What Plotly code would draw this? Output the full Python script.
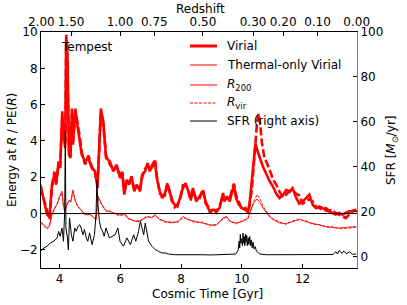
import plotly.graph_objects as go

# ---------------- data ----------------
# Thick "Virial" energy at R200 (solid)
vir_r200_t = [3.37,3.48,3.59,3.67,3.75,3.83,3.89,3.97,4.02,4.09,
              4.13,4.19,4.22,4.26,4.31,4.36,4.41,4.44,4.52,4.57,
              4.66,4.73,4.84,4.95,5.06,5.17,5.25,5.29,5.36,5.44,
              5.53,5.66,5.77,5.88,5.99,
              6.07,6.13,6.21,6.29,6.37,6.46,6.54,6.65,6.72,6.81,
              6.90,6.97,7.05,7.14,7.20,7.30,7.38,7.47,7.55,7.63,
              7.70,7.79,7.88,7.97,8.06,8.15,8.23,8.31,
              8.39,8.50,8.61,8.72,8.81,8.89,8.96,9.05,9.16,9.27,
              9.38,9.43,9.51,9.60,9.68,9.74,9.81,9.90,10.01,10.12,
              10.20,10.25,10.32,10.38,10.45,10.52,10.60,10.69,10.77,10.85,
              10.91,11.02,11.13,11.24,11.35,11.46,11.57,11.67,11.78,11.89,
              12.00,12.11,12.22,12.33,12.44,12.55,12.66,12.77,12.87,12.98,
              13.09,13.20,13.31,13.42,13.53,13.64,13.77]
vir_r200 = [1.59,0.67,-0.06,-0.16,1.59,2.14,1.59,2.87,2.51,5.63,
            4.16,3.79,9.85,8.75,3.24,3.06,5.78,3.79,5.78,5.08,
            4.16,3.24,2.87,3.06,2.51,2.32,1.40,3.24,5.78,5.08,
            3.06,2.87,2.32,2.69,1.96,
            2.14,1.04,1.86,1.59,2.05,1.22,1.59,1.22,2.14,2.32,
            2.78,2.32,2.69,2.87,1.96,1.22,0.85,1.13,1.59,1.22,
            0.67,0.49,0.39,0.95,1.40,1.68,1.22,0.85,
            1.40,0.67,0.95,1.22,0.67,0.30,0.12,0.21,0.16,0.30,
            1.13,0.67,0.95,0.67,1.22,1.50,0.85,0.49,0.30,0.21,
            0.12,0.49,1.59,2.51,3.85,3.43,3.00,2.60,2.30,2.00,
            1.80,1.50,1.10,0.85,1.00,1.30,1.20,1.40,0.90,0.55,
            0.67,0.85,1.04,0.49,0.30,0.39,0.30,0.16,0.12,0.03,
            -0.06,0.03,-0.06,0.03,0.12,0.12,0.21]

# Thick "Virial" energy at Rvir (dashed)
vir_rvir_t = [3.37,3.48,3.59,3.67,3.75,3.83,3.89,3.97,4.02,4.09,
              4.13,4.19,4.22,4.26,4.31,4.36,4.41,4.44,4.52,4.57,
              4.66,4.73,4.84,4.95,5.06,5.17,5.25,5.29,5.36,5.44,
              5.53,5.66,5.77,5.88,5.99,
              6.07,6.13,6.21,6.29,6.37,6.46,6.54,6.65,6.72,6.81,
              6.90,6.97,7.05,7.14,7.20,7.30,7.38,7.47,7.55,7.63,
              7.70,7.79,7.88,7.97,8.06,8.15,8.23,8.31,
              8.39,8.50,8.61,8.72,8.81,8.89,8.96,9.05,9.16,9.27,
              9.38,9.43,9.51,9.60,9.68,9.74,9.81,9.90,10.01,10.12,
              10.20,10.25,10.32,10.38,10.44,10.50,10.55,10.60,10.66,10.74,
              10.82,10.90,10.96,11.02,11.13,11.24,11.35,11.46,11.57,11.67,
              11.78,11.89,12.00,12.11,12.22,12.33,12.44,12.55,12.66,12.77,
              12.87,12.98,13.09,13.20,13.31,13.42,13.53,13.64,13.77]
vir_rvir = [1.45,0.80,0.10,-0.30,1.40,2.30,1.70,2.70,2.60,5.30,
            4.30,3.60,9.50,8.30,3.40,3.20,5.50,3.90,5.50,5.20,
            4.30,3.40,2.70,3.20,2.60,2.20,1.60,3.00,5.50,4.90,
            3.20,2.70,2.45,2.55,2.10,
            2.30,1.20,1.70,1.75,1.90,1.35,1.45,1.35,2.00,2.45,
            2.65,2.45,2.55,3.00,2.10,1.10,1.00,1.00,1.70,1.10,
            0.80,0.35,0.50,0.80,1.55,1.55,1.35,0.70,
            1.25,0.80,0.85,1.35,0.55,0.40,0.00,0.30,0.05,0.40,
            1.00,0.80,0.85,0.80,1.35,1.65,1.00,0.60,0.20,0.30,
            0.05,0.40,1.20,2.40,3.80,5.00,5.50,5.00,3.90,3.10,
            2.80,2.50,2.20,1.90,1.60,1.20,0.90,1.05,1.25,1.30,
            1.10,1.00,0.55,0.67,0.80,0.67,0.39,0.30,0.21,0.30,
            0.16,0.21,0.03,-0.06,-0.16,-0.25,-0.06,0.16,0.21]

# Thin "Thermal-only Virial" energy (solid = R200, dashed = Rvir)
therm_t = [3.37,3.48,3.60,3.67,3.75,3.83,3.92,4.00,4.08,4.12,
           4.17,4.22,4.30,4.37,4.44,4.52,4.60,4.70,4.80,4.90,
           5.00,5.10,5.20,5.27,5.34,5.45,5.55,5.66,5.80,5.95,
           6.05,6.15,6.26,6.48,6.65,6.81,6.92,7.03,7.14,7.30,
           7.47,7.68,7.90,8.06,8.23,8.44,8.72,8.94,9.16,9.38,
           9.50,9.60,9.81,10.03,10.20,10.30,10.40,10.50,10.60,10.70,
           10.85,11.00,11.24,11.46,11.67,11.89,12.11,12.33,12.55,12.77,
           12.98,13.20,13.42,13.77]
therm_r200 = [-0.43,-0.60,-0.80,-0.70,-0.06,0.30,0.49,0.95,1.23,0.50,
              0.10,0.40,0.67,0.67,1.30,0.67,0.40,0.21,0.03,-0.06,
              -0.06,-0.16,-0.35,0.95,0.67,0.30,0.16,0.12,0.03,-0.06,
              -0.10,0.00,-0.25,-0.43,-0.39,-0.25,-0.16,-0.25,-0.06,-0.34,
              -0.43,-0.52,-0.43,-0.16,-0.34,-0.43,-0.52,-0.62,-0.65,-0.25,
              -0.16,-0.43,-0.52,-0.43,-0.25,0.25,0.60,0.80,0.60,0.30,
              -0.06,-0.30,-0.52,-0.55,-0.45,-0.30,-0.45,-0.55,-0.65,-0.72,
              -0.77,-0.80,-0.76,-0.72]
therm_rvir = [-0.50,-0.70,-0.85,-0.60,0.00,0.20,0.55,0.85,1.15,0.60,
              0.20,0.35,0.75,0.60,1.20,0.75,0.35,0.25,-0.03,-0.10,
              -0.02,-0.20,-0.30,0.85,0.60,0.35,0.10,0.15,-0.02,-0.12,
              -0.05,-0.08,-0.30,-0.40,-0.45,-0.20,-0.22,-0.20,-0.12,-0.30,
              -0.48,-0.47,-0.50,-0.22,-0.30,-0.50,-0.47,-0.68,-0.60,-0.30,
              -0.22,-0.38,-0.58,-0.38,-0.30,0.15,0.70,1.05,0.80,0.40,
              0.02,-0.25,-0.47,-0.60,-0.40,-0.35,-0.40,-0.60,-0.60,-0.75,
              -0.72,-0.84,-0.80,-0.76]

# Star formation rate (right axis, Msun/yr)
sfr_t = [3.37,3.48,3.59,3.70,3.81,3.92,3.97,4.02,4.08,4.13,
         4.17,4.19,4.21,4.26,4.29,4.33,4.39,4.44,4.50,4.55,
         4.61,4.66,4.71,4.77,4.82,4.88,4.93,4.99,5.07,5.15,
         5.20,5.23,5.26,5.31,5.36,5.42,5.47,5.53,5.64,5.75,
         5.83,5.92,5.99,6.10,6.22,6.33,6.44,6.51,6.60,6.66,
         6.71,6.77,6.82,6.88,6.93,7.04,7.15,7.26,7.37,7.48,
         7.59,7.81,8.03,8.25,8.47,8.70,9.00,9.30,9.60,9.80,
         9.88,9.91,9.93,9.95,9.97,9.99,10.02,10.04,10.06,10.08,
         10.10,10.12,10.14,10.16,10.18,10.21,10.23,10.26,10.28,10.31,
         10.34,10.37,10.40,10.44,10.48,10.59,10.81,11.00,11.30,11.60,
         11.90,12.20,12.50,12.80,13.00,13.10,13.15,13.20,13.30,13.35,
         13.45,13.55,13.65,13.77]
sfr = [2.4,3.9,4.7,6.1,6.9,8.4,11.3,9.1,12.8,6.9,
       20.0,55.8,12.8,8.4,3.0,17.3,9.8,6.9,12.8,11.3,
       13.6,14.3,12.8,9.8,12.1,8.4,6.9,10.6,5.4,9.8,
       18.7,34.0,24.7,15.8,12.8,11.3,9.1,12.8,8.4,9.1,
       9.8,12.8,6.9,4.7,8.4,5.4,9.8,6.9,11.3,15.8,
       12.8,9.8,15.0,11.3,6.9,4.7,3.2,2.4,1.7,1.7,
       1.2,0.9,0.9,0.9,1.2,0.9,0.8,1.0,0.9,1.2,
       3.0,7.0,4.0,10.0,6.0,8.0,5.0,10.5,6.0,9.0,
       5.0,10.0,6.5,9.5,5.0,8.5,5.5,9.0,5.0,7.5,
       4.0,6.5,3.5,4.5,2.5,1.2,0.9,0.9,0.8,0.9,
       0.8,0.9,0.8,0.9,1.0,2.3,1.2,2.8,1.5,2.5,
       1.4,2.2,1.0,1.3]

# Top axis: redshift labels at their cosmic times
z_labels = ["2.00", "1.50", "1.00", "0.75", "0.50", "0.30", "0.20", "0.10", "0.00"]
z_times = [3.40, 4.38, 5.99, 7.12, 8.72, 10.37, 11.36, 12.49, 13.78]

x_ticks = [4, 6, 8, 10, 12]
y_ticks = [-2, 0, 2, 4, 6, 8, 10]
y2_ticks = [0, 20, 40, 60, 80, 100]

legend_names = ["Virial", "Thermal-only Virial", "<i>R</i><sub>200</sub>",
                "<i>R</i><sub>vir</sub>", "SFR (right axis)"]

# ---------------- figure ----------------
RED = "#ff0000"
FONT = "DejaVu Sans"
fig = go.Figure()

fig.add_trace(go.Scatter(x=therm_t, y=therm_r200, mode="lines",
                         line=dict(color=RED, width=0.9)))
fig.add_trace(go.Scatter(x=therm_t, y=therm_rvir, mode="lines",
                         line=dict(color=RED, width=0.9, dash="3px,1.5px")))
fig.add_trace(go.Scatter(x=vir_r200_t, y=vir_r200, mode="lines",
                         line=dict(color=RED, width=2.6)))
fig.add_trace(go.Scatter(x=vir_rvir_t, y=vir_rvir, mode="lines",
                         line=dict(color=RED, width=2.6, dash="8px,3px")))
fig.add_trace(go.Scatter(x=sfr_t, y=sfr, mode="lines", yaxis="y2",
                         line=dict(color="black", width=1)))
# invisible trace so the top (redshift) axis is drawn
fig.add_trace(go.Scatter(x=[z_times[0], z_times[-1]], y=[None, None], xaxis="x2",
                         mode="lines"))

fig.add_shape(type="line", xref="paper", x0=0, x1=1, yref="y", y0=0, y1=0,
              line=dict(color="black", width=1), layer="above")


def px_x(x):
    return (x - 41) / 316


def px_y(y):
    return (268 - y) / 236


def txt(text, x, y, angle=0, size=12, anchor="center"):
    # x, y in pixels of the 407x305 picture
    fig.add_annotation(text=text, xref="paper", yref="paper",
                       x=px_x(x), y=px_y(y), textangle=angle,
                       showarrow=False, xanchor=anchor, yanchor="middle",
                       font=dict(size=size, color="black", family=FONT))


# hand-built legend (line samples + labels)
leg_styles = [dict(color=RED, width=3), dict(color=RED, width=1),
              dict(color=RED, width=1), dict(color=RED, width=1, dash="3px,1.5px"),
              dict(color="gray", width=2)]
leg_rows = [46, 65, 85, 103, 121]
for name, st, ry in zip(legend_names, leg_styles, leg_rows):
    fig.add_shape(type="line", xref="paper", yref="paper",
                  x0=px_x(190), x1=px_x(217), y0=px_y(ry), y1=px_y(ry), line=st)
    txt(name, 225, ry, anchor="left")

txt("Tempest", 87, 47)
txt("Cosmic Time [Gyr]", 207, 294)
txt("Redshift", 200, 9)
txt("Energy at <i>R</i> / PE(<i>R</i>)", 12, 150, angle=-90)
txt("SFR [<i>M</i><sub>⊙</sub>/yr]", 392, 150, angle=-90)

axis_common = dict(showgrid=False, zeroline=False, showline=True, ticks="inside",
                   ticklen=4, tickwidth=1, tickcolor="black", mirror=False,
                   automargin=False, tickfont=dict(size=12, color="black", family=FONT))

fig.update_layout(
    template="none",
    width=407, height=305,
    margin=dict(l=41, r=50, t=32, b=37, pad=0),
    paper_bgcolor="white", plot_bgcolor="white",
    font=dict(family=FONT, size=12, color="black"),
    xaxis=dict(range=[3.39, 13.79], tickvals=x_ticks, linecolor="black", **axis_common),
    xaxis2=dict(range=[3.39, 13.79], overlaying="x", side="top", tickvals=z_times,
                ticktext=z_labels, linecolor="black", **axis_common),
    yaxis=dict(range=[-3, 10], tickvals=y_ticks, linecolor="black", **axis_common),
    yaxis2=dict(range=[-5, 100], overlaying="y", side="right", tickvals=y2_ticks,
                linecolor="gray", **axis_common),
    showlegend=False,
    hovermode=False,
)

fig.write_html("out.html", config={"displayModeBar": False},
               post_script="document.body.style.margin='0';")
